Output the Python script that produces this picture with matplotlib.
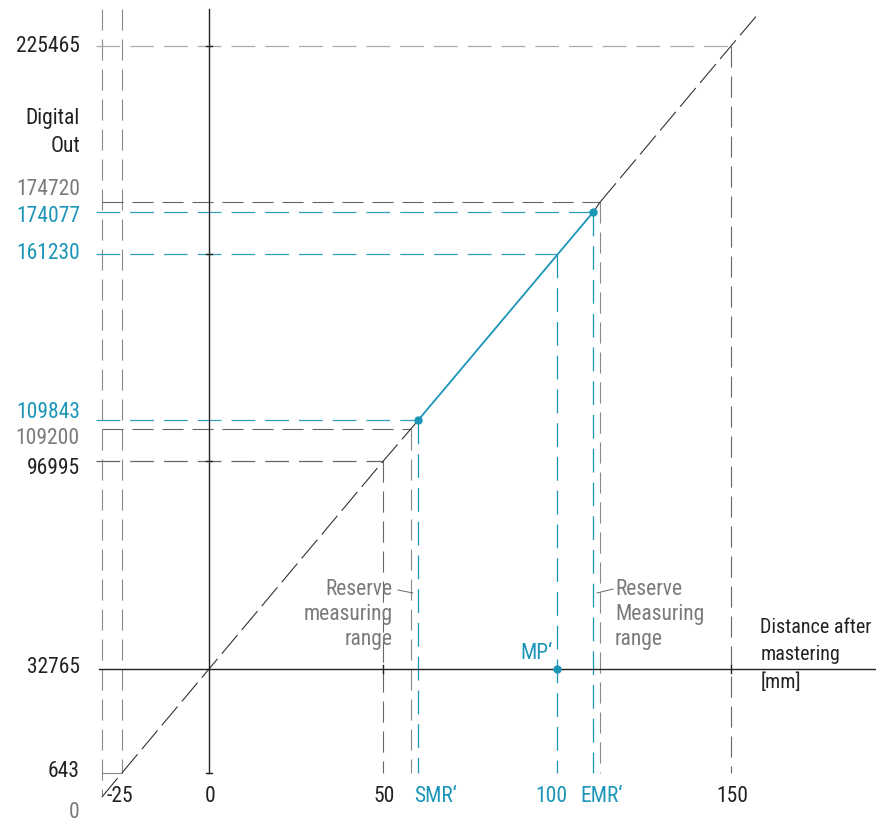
import matplotlib
matplotlib.use("Agg")
import matplotlib.pyplot as plt
from matplotlib import font_manager

# === font: pick a narrow / condensed sans if one is installed ===
fonts = font_manager.fontManager.ttflist
narrow = None
for want in ["Liberation Sans Narrow", "Roboto Condensed", "Open Sans Condensed",
             "DejaVu Sans", "Noto Sans", "Open Sans", "Roboto"]:
    for f in fonts:
        if f.name != want or f.style != "normal" or f.weight not in (400, "normal", "regular"):
            continue
        if ("Narrow" in want or "Condensed" in want) or str(f.stretch) in ("condensed", "semi-condensed", "extra-condensed"):
            narrow = f
            break
    if narrow:
        break

if narrow is not None:
    fp = font_manager.FontProperties(fname=narrow.fname)
    fs = 16 if "Narrow" in narrow.name else 15.5
else:
    fp = font_manager.FontProperties(family="Roboto")
    fs = 14

BLUE = "#1b95b8"
GRAY = "#7a7a7a"
LINE_GRAY = "#8a8a8a"
DARK = "#222222"

# === data ===
# characteristic line: distance after mastering [mm] -> digital out
char_x = [-30.75, -25, 0, 50, 100, 150, 158.3]
char_y = [-6800, 643, 32765, 96995, 161230, 225465, 236000]

# reference points with black labels
ref_x = [50, 150]
ref_y = [96995, 225465]
ref_labels = ["96995", "225465"]

# nominal measuring range SMR' .. EMR' (blue)
mr_x = [60.2, 110.4]
mr_y = [109843, 174077]
mr_labels = ["109843", "174077"]
mr_names = ["SMR\u2018", "EMR\u2018"]

# mid point MP'
mp_x = 100
mp_y = 161230
mp_zero = 32765

# reserve limits (drawn schematically, slightly off true scale)
res_x = [58.0, 112.4]
res_y = [107000, 177200]
res_labels = ["109200", "174720"]

# x axis tick labels
xtick_vals = [-25, 0, 50, 150]
xtick_labels = ["-25", "0", "50", "150"]

# === figure ===
fig = plt.figure(figsize=(8.76, 8.21), dpi=100)
ax = fig.add_axes([0, 0, 1, 1])
ax.set_xlim(-60.06, 191.67)
ax.set_ylim(-14250, 239694)
ax.axis("off")

dash = (0, (19, 8))
x_left = -32.5      # where labelled dashed lines start
x_wall = -30.75     # left vertical border line (output 0)
x_lab = -37.1       # right edge of y labels
y_floor = 643

# dashed characteristic, interrupted where the measuring range is drawn
low_x = [x for x in char_x if x <= res_x[0]] + [res_x[0]]
low_y = [y for x, y in zip(char_x, char_y) if x <= res_x[0]] + [res_y[0]]
up_x = [res_x[1]] + [x for x in char_x if x >= res_x[1]]
up_y = [res_y[1]] + [y for x, y in zip(char_x, char_y) if x >= res_x[1]]
ax.plot(low_x, low_y, color="#333333", lw=0.8, ls=(0, (22, 6)), zorder=2)
ax.plot(up_x, up_y, color="#333333", lw=0.8, ls=(0, (22, 6)), zorder=2)

# axes
ax.plot([-31.5, 191.67], [mp_zero, mp_zero], color=DARK, lw=1.0, zorder=3)
ax.plot([0, 0], [236800, y_floor], color=DARK, lw=1.0, zorder=3)
ax.plot([-0.9, 0.9], [y_floor, y_floor], color=DARK, lw=1.0, zorder=3)
for v in [96995, 161230, 225465]:
    ax.plot([-0.9, 0.9], [v, v], color=DARK, lw=1.0, zorder=3)
for v in [50, 150]:
    ax.plot([v, v], [mp_zero - 1200, mp_zero + 1200], color=DARK, lw=1.0, zorder=3)

# left vertical borders
ax.plot([x_wall, x_wall], [236900, char_y[0]], color=LINE_GRAY, lw=0.8, ls=dash, zorder=1)
ax.plot([-25, -25], [236900, y_floor], color=LINE_GRAY, lw=0.8, ls=dash, zorder=1)
ax.plot([x_wall, -25], [y_floor, y_floor], color=LINE_GRAY, lw=0.8, zorder=1)

# black reference drop lines
for x, y in zip(ref_x, ref_y):
    c = "#aaaaaa" if y == 225465 else "#666666"
    ax.plot([x_left, x], [y, y], color=c, lw=0.9, ls=dash, zorder=1)
    ax.plot([x, x], [y, y_floor], color="#666666", lw=0.8, ls=dash, zorder=1)

# reserve drop lines (gray)
for x, y in zip(res_x, res_y):
    ax.plot([x_wall, x], [y, y], color="#666666", lw=0.8, ls=dash, zorder=1)
    ax.plot([x, x], [y, y_floor], color=LINE_GRAY, lw=0.8, ls=dash, zorder=1)

# measuring range drop lines (blue)
for x, y in zip(mr_x, mr_y):
    ax.plot([x_left, x], [y, y], color=BLUE, lw=0.9, ls=dash, alpha=0.9, zorder=1)
    ax.plot([x, x], [y, y_floor], color=BLUE, lw=0.9, ls=dash, zorder=1)
ax.plot([x_left, mp_x], [mp_y, mp_y], color=BLUE, lw=0.9, ls=dash, alpha=0.9, zorder=1)
ax.plot([mp_x, mp_x], [mp_y, y_floor], color=BLUE, lw=0.9, ls=dash, zorder=1)

# short solid links reserve -> range, blue range and dots
ax.plot([res_x[0], mr_x[0]], [res_y[0], mr_y[0]], color="#333333", lw=0.8, zorder=2)
ax.plot([mr_x[1], res_x[1]], [mr_y[1], res_y[1]], color="#333333", lw=0.8, zorder=2)
ax.plot(mr_x, mr_y, color=BLUE, lw=1.3, zorder=4)
ax.plot(mr_x, mr_y, "o", color=BLUE, ms=5, zorder=5)
ax.plot([mp_x], [mp_zero], "o", color=BLUE, ms=5, zorder=5)

# === y labels ===
def ylabel(txt, val, dy, color):
    ax.annotate(txt, xy=(x_lab, val), xytext=(0, dy), textcoords="offset points",
                ha="right", va="center", fontproperties=fp, fontsize=fs, color=color)

ylabel("225465", 225465, 0, DARK)
ylabel(res_labels[1], res_y[1], 9, GRAY)
ylabel(mr_labels[1], mr_y[1], -3, BLUE)
ylabel("161230", mp_y, 0, BLUE)
ylabel(mr_labels[0], mr_y[0], 5, BLUE)
ylabel(res_labels[0], res_y[0], -7, GRAY)
ylabel(ref_labels[0], ref_y[0], -5, DARK)
ylabel("32765", mp_zero, 1, DARK)
ylabel("643", y_floor, 1, DARK)
ylabel("0", char_y[0], -11, GRAY)
ylabel("Digital", 202900, 0, DARK)
ylabel("Out", 194500, 0, DARK)

# === x labels ===
y_xlab = -6800
for v, t in zip(xtick_vals, xtick_labels):
    ax.text(v + (-0.5 if v == -25 else 0.4), y_xlab, t, ha="center", va="center",
            fontproperties=fp, fontsize=fs, color=DARK)
ax.text(mp_x - 1.7, y_xlab, "100", ha="center", va="center", fontproperties=fp,
        fontsize=fs, color=BLUE)
ax.text(mr_x[0] - 1.3, y_xlab, mr_names[0], ha="left", va="center", fontproperties=fp,
        fontsize=fs, color=BLUE)
ax.text(mr_x[1] - 3.8, y_xlab, mr_names[1], ha="left", va="center", fontproperties=fp,
        fontsize=fs, color=BLUE)
ax.text(mp_x - 1.4, mp_zero + 4700, "MP\u2018", ha="right", va="center", fontproperties=fp,
        fontsize=fs, color=BLUE)

# reserve notes
ax.text(52.8, 49500, "Reserve\nmeasuring\nrange", ha="right", va="center",
        fontproperties=fp, fontsize=fs, color=GRAY, linespacing=1.25)
ax.plot([54.3, 58.6], [57200, 56270], color="#666666", lw=0.7)
ax.text(116.7, 49500, "Reserve\nMeasuring\nrange", ha="left", va="center",
        fontproperties=fp, fontsize=fs, color=GRAY, linespacing=1.25)
ax.plot([111.5, 116.1], [56270, 57500], color="#666666", lw=0.7)

ax.text(158.4, 37100, "Distance after\nmastering\n[mm]", ha="left", va="center",
        fontproperties=fp, fontsize=fs - 1, color=DARK, linespacing=1.55)

fig.savefig("out.png", dpi=100)
